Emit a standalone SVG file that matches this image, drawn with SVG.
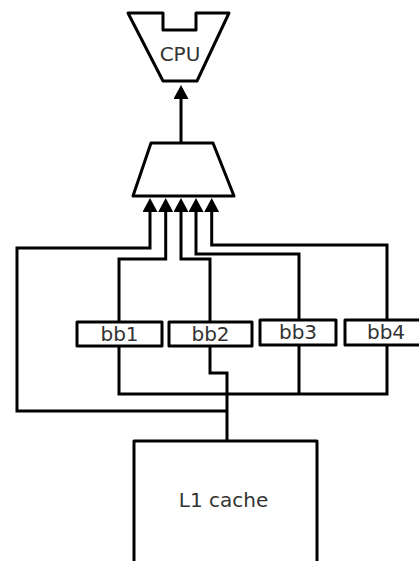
<svg xmlns="http://www.w3.org/2000/svg" width="419" height="561" viewBox="0 0 419 561">
<style>
.shape{fill:#fff;stroke:#000;stroke-width:3;stroke-linejoin:round}
.wire{fill:none;stroke:#000;stroke-width:3;stroke-linejoin:miter}
.lbl{font-family:"DejaVu Sans","Liberation Sans",sans-serif;font-size:20px;fill:#333;text-anchor:middle}
</style>
<defs>
<marker id="arr" viewBox="0 0 14 15" refX="0" refY="7.5" markerUnits="userSpaceOnUse" markerWidth="14" markerHeight="15" orient="auto">
<path d="M0,0 L14,7.5 L0,15 z" fill="#000"/>
</marker>
</defs>
<rect width="419" height="561" fill="#fff"/>
<g id="connectors">
<path class="wire" d="M181,143 V99" marker-end="url(#arr)"/>
<path class="wire" d="M227,411 H17 V248 H150 V212" marker-end="url(#arr)"/>
<path class="wire" d="M119,322 V259 H165.7 V212" marker-end="url(#arr)"/>
<path class="wire" d="M210,322 V259 H181 V212" marker-end="url(#arr)"/>
<path class="wire" d="M299,320 V254 H196 V212" marker-end="url(#arr)"/>
<path class="wire" d="M387,320 V245 H211.7 V212" marker-end="url(#arr)"/>
<path class="wire" d="M119,346 V394 H387 V345"/>
<path class="wire" d="M299,345 V394"/>
<path class="wire" d="M210,346 V373 H227 V441"/>
</g>
<g id="cpu">
<path class="shape" d="M128,13 H163 V30 H196 V13 H229 L197,81 H163 Z"/>
<text class="lbl" x="180" y="61">CPU</text>
</g>
<g id="mux">
<path class="shape" d="M151,143 H213 L234,196 H133 Z"/>
</g>
<g id="bb1">
<rect class="shape" x="77" y="322" width="85" height="24"/>
<text class="lbl" x="119.5" y="341">bb1</text>
</g>
<g id="bb2">
<rect class="shape" x="169" y="322" width="83" height="24"/>
<text class="lbl" x="210.5" y="341">bb2</text>
</g>
<g id="bb3">
<rect class="shape" x="260" y="320" width="76" height="25"/>
<text class="lbl" x="298" y="339">bb3</text>
</g>
<g id="bb4">
<rect class="shape" x="345" y="320" width="84" height="25"/>
<text class="lbl" x="386" y="339">bb4</text>
</g>
<g id="l1">
<rect class="shape" x="134" y="441" width="183" height="140"/>
<text class="lbl" x="223.5" y="507">L1 cache</text>
</g>
</svg>
